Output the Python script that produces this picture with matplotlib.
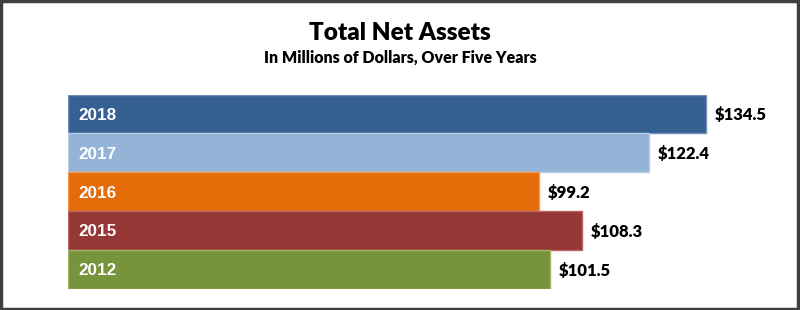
import matplotlib.pyplot as plt
from matplotlib.patches import Rectangle
from matplotlib import font_manager

# --- Data ---
years = ["2018", "2017", "2016", "2015", "2012"]
net_assets = [134.5, 122.4, 99.2, 108.3, 101.5]
bar_colors = ["#366092", "#95B3D7", "#E36C09", "#953735", "#77933C"]
edge_colors = ["#6F8FBA", "#B9CDE6", "#F29A50", "#B96462", "#9DB565"]

print(sorted({(f.name, f.weight) for f in font_manager.fontManager.ttflist if f.name in ("Lato", "Open Sans", "Noto Sans")}))

W, H = 800, 310
fig = plt.figure(figsize=(W / 100, H / 100), dpi=100)

# --- Plot area ---
left, right_px = 68.3, 68.3 + 711.2
top, bottom = 94.5, 288.7
ax = fig.add_axes([left / W, 1 - bottom / H, (right_px - left) / W, (bottom - top) / H])

pos = list(range(len(years)))
ax.barh(pos, net_assets, height=1.0, color=bar_colors,
        edgecolor=edge_colors, linewidth=1)

ax.set_xlim(0, 150)
ax.set_ylim(len(years) - 0.5, -0.5)
ax.axis("off")

for p, yr, v in zip(pos, years, net_assets):
    ax.text(2.1, p, yr, color="white", fontsize=12.3, fontweight="bold",
            family="Liberation Sans", va="center_baseline", ha="left")
    ax.annotate(f"${v:.1f}", xy=(v, p), xytext=(9, 0), textcoords="offset pixels",
                fontsize=12, fontweight="heavy", family="Lato",
                va="center_baseline", ha="left")

# --- Titles ---
fig.text(0.5, 1 - 33 / H, "Total Net Assets", ha="center", va="center",
         fontsize=17.5, fontweight="heavy", family="Lato")
fig.text(0.5, 1 - 58 / H, "In Millions of Dollars, Over Five Years", ha="center",
         va="center", fontsize=11.5, fontweight="heavy", family="Lato")

# --- Frame ---
fig.patches.append(Rectangle((0.0015, 0.003), 0.996, 0.994, transform=fig.transFigure,
                             fill=False, edgecolor="#404040", linewidth=2.5))

fig.savefig("out.png", dpi=100)
